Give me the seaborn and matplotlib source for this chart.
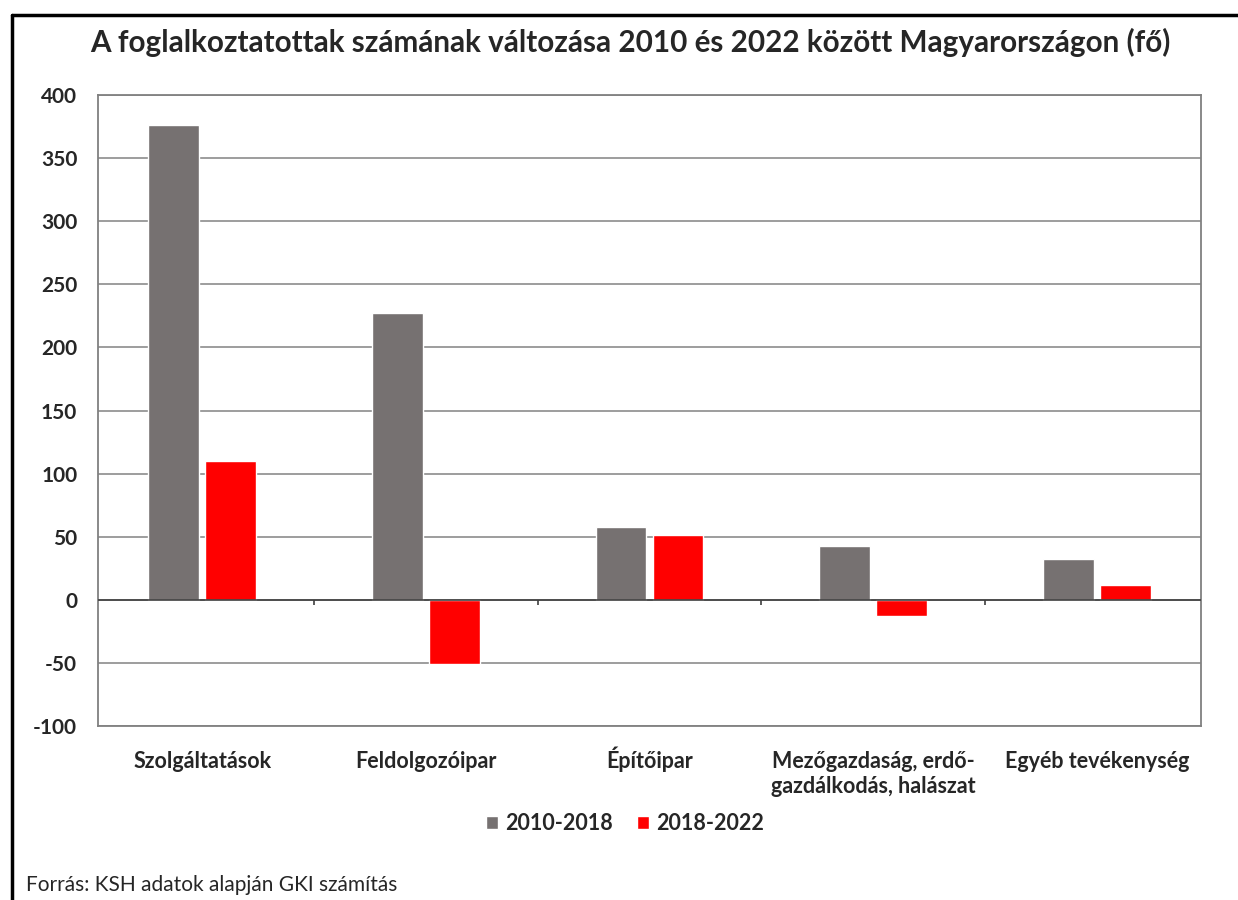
import pandas as pd
import matplotlib
matplotlib.use("Agg")
import matplotlib.pyplot as plt
import seaborn as sns

# Chart data (ezer fő)
categories = ["Szolgáltatások", "Feldolgozóipar", "Építőipar",
              "Mezőgazdaság, erdő-\ngazdálkodás, halászat", "Egyéb tevékenység"]
periods = ["2010-2018", "2018-2022"]
change_2010_2018 = [376, 227, 58, 43, 32]
change_2018_2022 = [110, -51, 51, -13, 12]
y_ticks = [-100, -50, 0, 50, 100, 150, 200, 250, 300, 350, 400]

df = pd.DataFrame({
    "category": categories * 2,
    "period": [periods[0]] * len(categories) + [periods[1]] * len(categories),
    "value": change_2010_2018 + change_2018_2022,
})

sns.set_theme(style="white")
plt.rcParams["font.family"] = ["Lato", "DejaVu Sans"]

fig = plt.figure(figsize=(12.38, 9), dpi=100)
ax = fig.add_axes([0.0792, 0.1933, 0.8909, 0.7011])

palette = {"2010-2018": "#767171", "2018-2022": "#FF0000"}
sns.barplot(data=df, x="category", y="value", hue="period", palette=palette,
            width=0.51, gap=0.11, saturation=1, ax=ax, zorder=3)

ax.set_ylim(-100, 400)
ax.set_yticks(y_ticks)
ax.set_yticklabels([str(t) for t in y_ticks], fontsize=15, fontweight="bold")
ax.yaxis.grid(True, color="#8c8c8c", linewidth=1.2, zorder=0)
ax.set_axisbelow(True)
ax.tick_params(axis="y", length=0, pad=15)
ax.tick_params(axis="x", length=0, pad=18)
for lbl in ax.get_xticklabels():
    lbl.set_fontsize(15.5)
    lbl.set_fontweight("bold")
    lbl.set_linespacing(1.25)
    if lbl.get_text().startswith("É"):
        # accent on the capital pushes the label down; lift it back in line
        lbl.set_y(5 / 631)
ax.set_xlabel("")
ax.set_ylabel("")
for s in ax.spines.values():
    s.set_color("#808080")
    s.set_linewidth(1.3)

# zero line with separator ticks between categories
ax.axhline(0, color="#404040", linewidth=1.2, zorder=4)
ax.vlines([0.5, 1.5, 2.5, 3.5], -4, 0, color="#404040", linewidth=1.2, zorder=4)

handles, labels = ax.get_legend_handles_labels()
ax.legend(handles, labels, loc="center", bbox_to_anchor=(0.478, -0.155),
          ncol=2, frameon=False, handlelength=0.56, handleheight=0.56,
          handletextpad=0.35, columnspacing=1.1, borderpad=0,
          prop={"size": 15.5, "weight": "bold", "family": ["Lato", "DejaVu Sans"]})

fig.suptitle("A foglalkoztatottak számának változása 2010 és 2022 között Magyarországon (fő)",
             x=0.509, y=0.953, fontsize=21.3, fontweight="bold", va="center")
fig.text(26 / 1238, 0.017, "Forrás: KSH adatok alapján GKI számítás", fontsize=15, va="center")

# outer frame (top and left edges visible)
fig.add_artist(plt.Line2D([12 / 1238, 1], [1 - 15 / 900] * 2, transform=fig.transFigure,
                          color="black", linewidth=2.5))
fig.add_artist(plt.Line2D([12 / 1238] * 2, [0, 1 - 15 / 900], transform=fig.transFigure,
                          color="black", linewidth=2.5))

fig.savefig("out.png", dpi=100)
